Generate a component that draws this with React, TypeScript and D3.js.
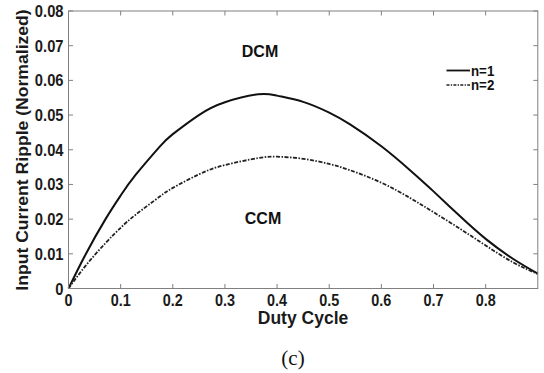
import React from "react";
import * as d3 from "d3";

const duty = [0, 0.033, 0.071, 0.1, 0.129, 0.175, 0.2, 0.25, 0.3, 0.364, 0.4, 0.45, 0.5, 0.54, 0.6, 0.655, 0.7, 0.751, 0.8, 0.853, 0.9];
const rippleN1 = [0, 0.0099, 0.02, 0.0268, 0.0328, 0.0409, 0.0445, 0.05, 0.0537, 0.056, 0.0556, 0.0538, 0.0507, 0.0473, 0.041, 0.0341, 0.028, 0.0208, 0.0143, 0.0085, 0.0043];
const rippleN2 = [0, 0.0066, 0.0131, 0.0175, 0.0213, 0.0265, 0.029, 0.0329, 0.0356, 0.0376, 0.038, 0.0374, 0.0359, 0.0341, 0.0305, 0.0261, 0.022, 0.0172, 0.0124, 0.0075, 0.0042];
const xTicks = [0, 0.1, 0.2, 0.3, 0.4, 0.5, 0.6, 0.7, 0.8];
const yTicks = [0, 0.01, 0.02, 0.03, 0.04, 0.05, 0.06, 0.07, 0.08];
const seriesLabels = ["n=1", "n=2"];

const W = 544, H = 373;
const L = 68.5, R = 537.8, T = 11, B = 288.5;
const font = "'Liberation Sans', Arial, Helvetica, sans-serif";

function SText(props: { x: number; y: number; anchor?: string; size: number; sx?: number; children: any; fill?: string }) {
  const sx = props.sx ?? 1;
  return (
    <text
      transform={`translate(${props.x},${props.y}) scale(${sx},1)`}
      textAnchor={props.anchor ?? "start"}
      fontFamily={font}
      fontWeight="bold"
      fontSize={props.size}
      fill={props.fill ?? "#1a1a1a"}
    >
      {props.children}
    </text>
  );
}

export default function App() {
  const x = d3.scaleLinear().domain([0, 0.9]).range([L, R]);
  const y = d3.scaleLinear().domain([0, 0.08]).range([B, T]);
  const line = d3.line<[number, number]>().x(d => x(d[0])).y(d => y(d[1])).curve(d3.curveNatural);
  const p1 = line(duty.map((d, i) => [d, rippleN1[i]]))!;
  const p2 = line(duty.map((d, i) => [d, rippleN2[i]]))!;
  const fmt = (v: number) => (v === 0 ? "0" : d3.format(".2f")(v));
  const fmtx = (v: number) => (v === 0 ? "0" : d3.format(".1f")(v));
  const tick = 4.5;
  const axisColor = "#808080";
  return (
    <svg width={W} height={H} style={{ position: "absolute", left: 0, top: 0 }}>
      <rect x={0} y={0} width={W} height={H} fill="#fff" />
      <g>
        <path d={p1} fill="none" stroke="#111" strokeWidth={2} />
        <path d={p2} fill="none" stroke="#222" strokeWidth={1.8} strokeDasharray="4 1.5 1.5 1.5" />
      </g>
      <rect x={L} y={T} width={R - L} height={B - T} fill="none" stroke={axisColor} strokeWidth={1} />
      {xTicks.map(t => (
        <g key={"x" + t}>
          <line x1={x(t)} x2={x(t)} y1={B} y2={B - tick} stroke={axisColor} />
          <line x1={x(t)} x2={x(t)} y1={T} y2={T + tick} stroke={axisColor} />
          <SText x={x(t)} y={306} anchor="middle" size={16} sx={0.9}>{fmtx(t)}</SText>
        </g>
      ))}
      {yTicks.map(t => (
        <g key={"y" + t}>
          <line x1={L} x2={L + tick} y1={y(t)} y2={y(t)} stroke={axisColor} />
          <line x1={R} x2={R - tick} y1={y(t)} y2={y(t)} stroke={axisColor} />
          <SText x={63.5} y={y(t) + 6} anchor="end" size={16} sx={0.92}>{fmt(t)}</SText>
        </g>
      ))}
      <SText x={303} y={324} anchor="middle" size={17.5}>Duty Cycle</SText>
      <text transform={`translate(28,150) rotate(-90) scale(1,0.9)`} textAnchor="middle" fontFamily={font} fontWeight="bold" fontSize={17.6} fill="#1a1a1a">Input Current Ripple (Normalized)</text>
      <SText x={260} y={56.5} anchor="middle" size={16} fill="#111">DCM</SText>
      <SText x={263} y={224} anchor="middle" size={16} fill="#111">CCM</SText>
      <g>
        <line x1={446.5} x2={470} y1={70.5} y2={70.5} stroke="#111" strokeWidth={1.8} />
        <SText x={471} y={75.5} size={14} sx={0.95} fill="#111">{seriesLabels[0]}</SText>
        <line x1={446.5} x2={470} y1={85} y2={85} stroke="#222" strokeWidth={1.6} strokeDasharray="3 1.3 1.3 1.3" />
        <SText x={471} y={90} size={14} sx={0.95} fill="#111">{seriesLabels[1]}</SText>
      </g>
      <text x={293} y={365} textAnchor="middle" fontFamily="'Liberation Serif', 'Times New Roman', serif" fontSize={21} fill="#111">(c)</text>
    </svg>
  );
}
